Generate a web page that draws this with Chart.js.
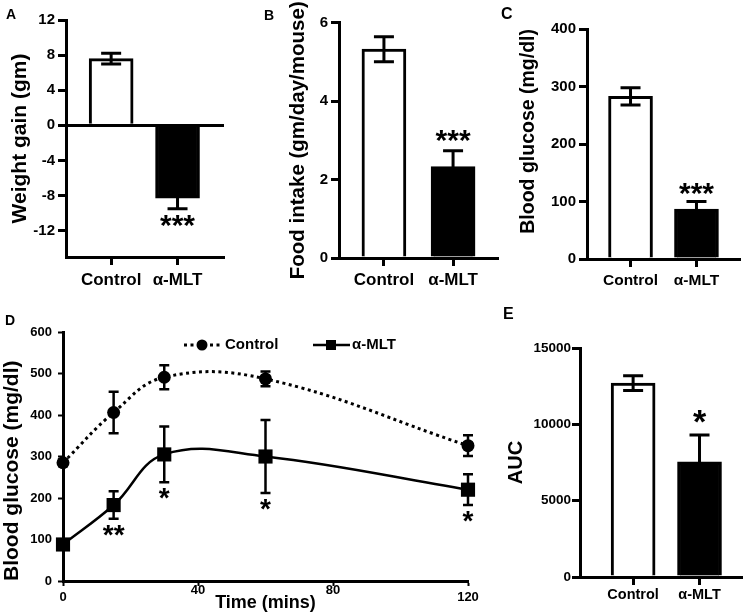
<!DOCTYPE html>
<html>
<head>
<meta charset="utf-8">
<script src="https://cdn.jsdelivr.net/npm/chart.js@4.4.1/dist/chart.umd.min.js"></script>
<style>
  body { margin: 0; background: #fff; }
  #wrap { position: relative; width: 744px; height: 615px; overflow: hidden; }
  canvas { position: absolute; }
  .panel { position: absolute; font-family: 'Liberation Sans', Arial, sans-serif; font-weight: bold; line-height: 1; }
</style>
</head>
<body>
<div id="wrap">
  <canvas id="chartA" width="250" height="300" style="left:0;top:0"></canvas>
  <canvas id="chartB" width="250" height="300" style="left:250px;top:0"></canvas>
  <canvas id="chartC" width="244" height="300" style="left:500px;top:0"></canvas>
  <canvas id="chartD" width="500" height="310" style="left:0;top:305px"></canvas>
  <canvas id="chartE" width="244" height="310" style="left:500px;top:305px"></canvas>
  <div class="panel" style="left:6px;top:7px;font-size:14px">A</div>
  <div class="panel" style="left:264px;top:8px;font-size:14px">B</div>
  <div class="panel" style="left:501px;top:6px;font-size:16px">C</div>
  <div class="panel" style="left:5px;top:313px;font-size:14px">D</div>
  <div class="panel" style="left:503px;top:306px;font-size:16px">E</div>
</div>
<script>
var FONT = "'Liberation Sans', Arial, sans-serif";

var groups = ['Control', 'α-MLT'];

// A - weight gain
var weightGain = [7.6, -8.3];
var weightGainErr = [0.6, 1.2];
var weightStars = ['', '***'];
var weightTicks = [-12, -8, -4, 0, 4, 8, 12];

// B - food intake
var foodIntake = [5.32, 2.33];
var foodIntakeErr = [0.32, 0.4];
var foodStars = ['', '***'];
var foodTicks = [0, 2, 4, 6];

// C - blood glucose
var glucose = [283, 87];
var glucoseErr = [15, 13];
var glucoseStars = ['', '***'];
var glucoseTicks = [0, 100, 200, 300, 400];

// D - glucose tolerance
var timeMins = [0, 15, 30, 60, 120];
var gttControl = [285, 406, 491, 487, 326];
var gttControlErr = [8, 50, 29, 18, 25];
var gttMlt = [88, 183, 305, 300, 220];
var gttMltErr = [8, 33, 67, 88, 37];
var gttStars = ['', '**', '*', '*', '*'];
var timeTicks = [0, 40, 80, 120];
var gttTicks = [0, 100, 200, 300, 400, 500, 600];

// E - area under curve
var auc = [12700, 7550];
var aucErr = [480, 1750];
var aucStars = ['', '*'];
var aucTicks = [0, 5000, 10000, 15000];

Chart.defaults.font.family = FONT;
Chart.defaults.font.weight = 'bold';
Chart.defaults.color = '#000';

var errorBars = {
    id: 'errorBars',
    afterDatasetsDraw: function(chart) {
        var ctx = chart.ctx;
        var yScale = chart.scales.y;
        chart.data.datasets.forEach(function(ds, i) {
            if (!ds.errors) return;
            var meta = chart.getDatasetMeta(i);
            meta.data.forEach(function(el, j) {
                var v = ds.data[j].y;
                var e = ds.errors[j];
                var cap = ds.capWidth / 2;
                var yHi = yScale.getPixelForValue(v + e);
                var yLo = yScale.getPixelForValue(v - e);
                ctx.save();
                ctx.strokeStyle = '#000';
                ctx.lineWidth = ds.errWidth || 3;
                ctx.beginPath();
                ctx.moveTo(el.x, yHi); ctx.lineTo(el.x, yLo);
                ctx.moveTo(el.x - cap, yHi); ctx.lineTo(el.x + cap, yHi);
                ctx.moveTo(el.x - cap, yLo); ctx.lineTo(el.x + cap, yLo);
                ctx.stroke();
                if (ds.stars && ds.stars[j]) {
                    var below = ds.starSide === 'below' || v < 0;
                    var cy = below ? yLo + ds.starGap : yHi - ds.starGap;
                    ctx.font = 'bold ' + ds.starSize + 'px ' + FONT;
                    ctx.fillStyle = '#000';
                    ctx.textAlign = 'center';
                    ctx.textBaseline = 'alphabetic';
                    ctx.fillText(ds.stars[j], el.x, cy + 0.42 * ds.starSize);
                }
                ctx.restore();
            });
        });
    }
};

// legend for panel D: line sample + marker + name
var lineLegend = {
    id: 'lineLegend',
    afterDraw: function(chart) {
        var ctx = chart.ctx;
        var y = 40;
        ctx.save();
        ctx.strokeStyle = '#000';
        ctx.fillStyle = '#000';
        ctx.lineWidth = 3;
        ctx.setLineDash([3, 3.5]);
        ctx.beginPath(); ctx.moveTo(184, y); ctx.lineTo(221, y); ctx.stroke();
        ctx.setLineDash([]);
        ctx.beginPath(); ctx.arc(202, y, 5.5, 0, Math.PI * 2); ctx.fill();
        ctx.lineWidth = 2.5;
        ctx.beginPath(); ctx.moveTo(313, y); ctx.lineTo(350, y); ctx.stroke();
        ctx.fillRect(326, y - 5, 10, 10);
        ctx.font = 'bold 15px ' + FONT;
        ctx.textBaseline = 'middle';
        ctx.fillText(chart.data.datasets[0].label, 225, y);
        ctx.fillText(chart.data.datasets[1].label, 352, y);
        ctx.restore();
    }
};

function yAxis(c) {
    return {
        min: c.yMin, max: c.yMax,
        afterFit: function(s) { s.width = c.yW; },
        afterBuildTicks: function(s) { s.ticks = c.ticks.map(function(v) { return { value: v }; }); },
        border: { display: true, color: '#000', width: 3 },
        grid: {
            drawOnChartArea: !!c.zeroLine,
            color: function(ctx) { return ctx.tick && ctx.tick.value === 0 ? '#000' : 'rgba(0,0,0,0)'; },
            lineWidth: 3, tickColor: '#000', tickWidth: c.tickWidth || 3, tickLength: c.tickLength
        },
        ticks: { font: { size: c.tickSize, weight: 'bold' }, padding: c.tickPad, color: '#000',
                 callback: function(v) { return String(v); } },
        title: { display: true, text: c.title, align: c.titleAlign || 'center',
                 font: { size: c.titleSize, weight: 'bold', lineHeight: 1 },
                 padding: { top: c.titlePad, bottom: 0 } }
    };
}

function barChart(id, c) {
    var ctx = document.getElementById(id).getContext('2d');
    return new Chart(ctx, {
        type: 'bar',
        data: {
            datasets: [{
                data: groups.map(function(g, i) { return { x: i, y: c.values[i] }; }),
                backgroundColor: ['#fff', '#000'],
                borderColor: '#000',
                borderWidth: 3,
                barThickness: 44,
                errors: c.errors,
                capWidth: 20,
                stars: c.stars,
                starGap: c.starGap,
                starSize: c.starSize
            }]
        },
        options: {
            responsive: false,
            animation: false,
            layout: { padding: { left: 0, top: c.padTop, right: c.padRight, bottom: 0 } },
            plugins: { legend: { display: false }, tooltip: { enabled: false } },
            scales: {
                x: {
                    type: 'linear', min: c.xMin, max: c.xMax, offset: false,
                    afterFit: function(s) { s.height = c.xH; },
                    afterBuildTicks: function(s) { s.ticks = groups.map(function(g, i) { return { value: i }; }); },
                    border: { display: true, color: '#000', width: 3 },
                    grid: { offset: false, drawOnChartArea: false, tickColor: '#000', tickWidth: 3, tickLength: 8 },
                    ticks: { font: { size: c.catSize, weight: 'bold' }, padding: c.catPad, color: '#000',
                             maxRotation: 0, autoSkip: false,
                             callback: function(v) { return groups[v]; } }
                },
                y: yAxis(c)
            }
        },
        plugins: [errorBars]
    });
}

barChart('chartA', {
    values: weightGain, errors: weightGainErr, stars: weightStars, starGap: 14, starSize: 30,
    ticks: weightTicks, yMin: -15, yMax: 12, zeroLine: true,
    xMin: -0.68, xMax: 1.7, yW: 66, xH: 43, padTop: 20, padRight: 26,
    tickSize: 15, tickPad: 3, tickLength: 8, catSize: 17, catPad: 5,
    title: 'Weight gain (gm)', titleSize: 21, titlePad: 9.5
});

barChart('chartB', {
    values: foodIntake, errors: foodIntakeErr, stars: foodStars, starGap: 13, starSize: 30,
    ticks: foodTicks, yMin: 0, yMax: 6,
    xMin: -0.65, xMax: 1.65, yW: 89, xH: 42, padTop: 22.5, padRight: 2,
    tickSize: 15, tickPad: 3, tickLength: 8, catSize: 17, catPad: 4,
    title: 'Food intake (gm/day/mouse)', titleSize: 20.5, titlePad: 38.5
});

barChart('chartC', {
    values: glucose, errors: glucoseErr, stars: glucoseStars, starGap: 11, starSize: 30,
    ticks: glucoseTicks, yMin: 0, yMax: 400,
    xMin: -0.66, xMax: 1.66, yW: 87, xH: 41, padTop: 29, padRight: 4,
    tickSize: 15, tickPad: 3, tickLength: 8, catSize: 15.5, catPad: 4,
    title: 'Blood glucose (mg/dl)', titleSize: 19.5, titlePad: 19, titleAlign: 'end'
});

barChart('chartE', {
    values: auc, errors: aucErr, stars: aucStars, starGap: 16, starSize: 34,
    ticks: aucTicks, yMin: 0, yMax: 15000,
    xMin: -0.8, xMax: 1.64, yW: 80, xH: 38, padTop: 43, padRight: 2,
    tickSize: 13.5, tickPad: 1, tickLength: 8, catSize: 14.5, catPad: 1.5,
    title: 'AUC', titleSize: 20, titlePad: 6
});

// D - line chart
new Chart(document.getElementById('chartD').getContext('2d'), {
    type: 'line',
    data: {
        datasets: [{
            label: 'Control',
            data: timeMins.map(function(t, i) { return { x: t, y: gttControl[i] }; }),
            borderColor: '#000', borderWidth: 3, borderDash: [3, 3.5],
            tension: 0.4, clip: false,
            pointStyle: 'circle', pointRadius: 6.5, pointBackgroundColor: '#000', pointBorderWidth: 0,
            errors: gttControlErr, capWidth: 10, errWidth: 2.5
        }, {
            label: 'α-MLT',
            data: timeMins.map(function(t, i) { return { x: t, y: gttMlt[i] }; }),
            borderColor: '#000', borderWidth: 2.5,
            tension: 0.4, clip: false,
            pointStyle: 'rect', pointRadius: 10, pointBackgroundColor: '#000', pointBorderWidth: 0,
            errors: gttMltErr, capWidth: 10, errWidth: 2.5,
            stars: gttStars, starSide: 'below', starGap: 13, starSize: 28
        }]
    },
    options: {
        responsive: false,
        animation: false,
        layout: { padding: { left: 0, top: 27, right: 32, bottom: 0 } },
        plugins: { legend: { display: false }, tooltip: { enabled: false } },
        scales: {
            x: {
                type: 'linear', min: 0, max: 120,
                afterFit: function(s) { s.height = 34; },
                afterBuildTicks: function(s) { s.ticks = timeTicks.map(function(v) { return { value: v }; }); },
                border: { display: true, color: '#000', width: 3 },
                grid: { drawOnChartArea: false, tickColor: '#000', tickWidth: 2, tickLength: 5 },
                ticks: {
                    font: { size: 13, weight: 'bold', lineHeight: '7px' }, padding: 0.5, color: '#000',
                    maxRotation: 0, autoSkip: false,
                    callback: function(v, i, t) {
                        return (i === 0 || i === t.length - 1) ? ['', String(v)] : String(v);
                    }
                },
                title: { display: true, text: 'Time (mins)', font: { size: 18, weight: 'bold', lineHeight: 1 },
                         padding: { top: 0, bottom: 3 } }
            },
            y: yAxis({
                ticks: gttTicks, yMin: 0, yMax: 600, yW: 63,
                tickSize: 13, tickPad: 6, tickLength: 5, tickWidth: 2,
                title: 'Blood glucose (mg/dl)', titleSize: 21, titlePad: 1.5, titleAlign: 'start'
            })
        }
    },
    plugins: [errorBars, lineLegend]
});
</script>
</body>
</html>
